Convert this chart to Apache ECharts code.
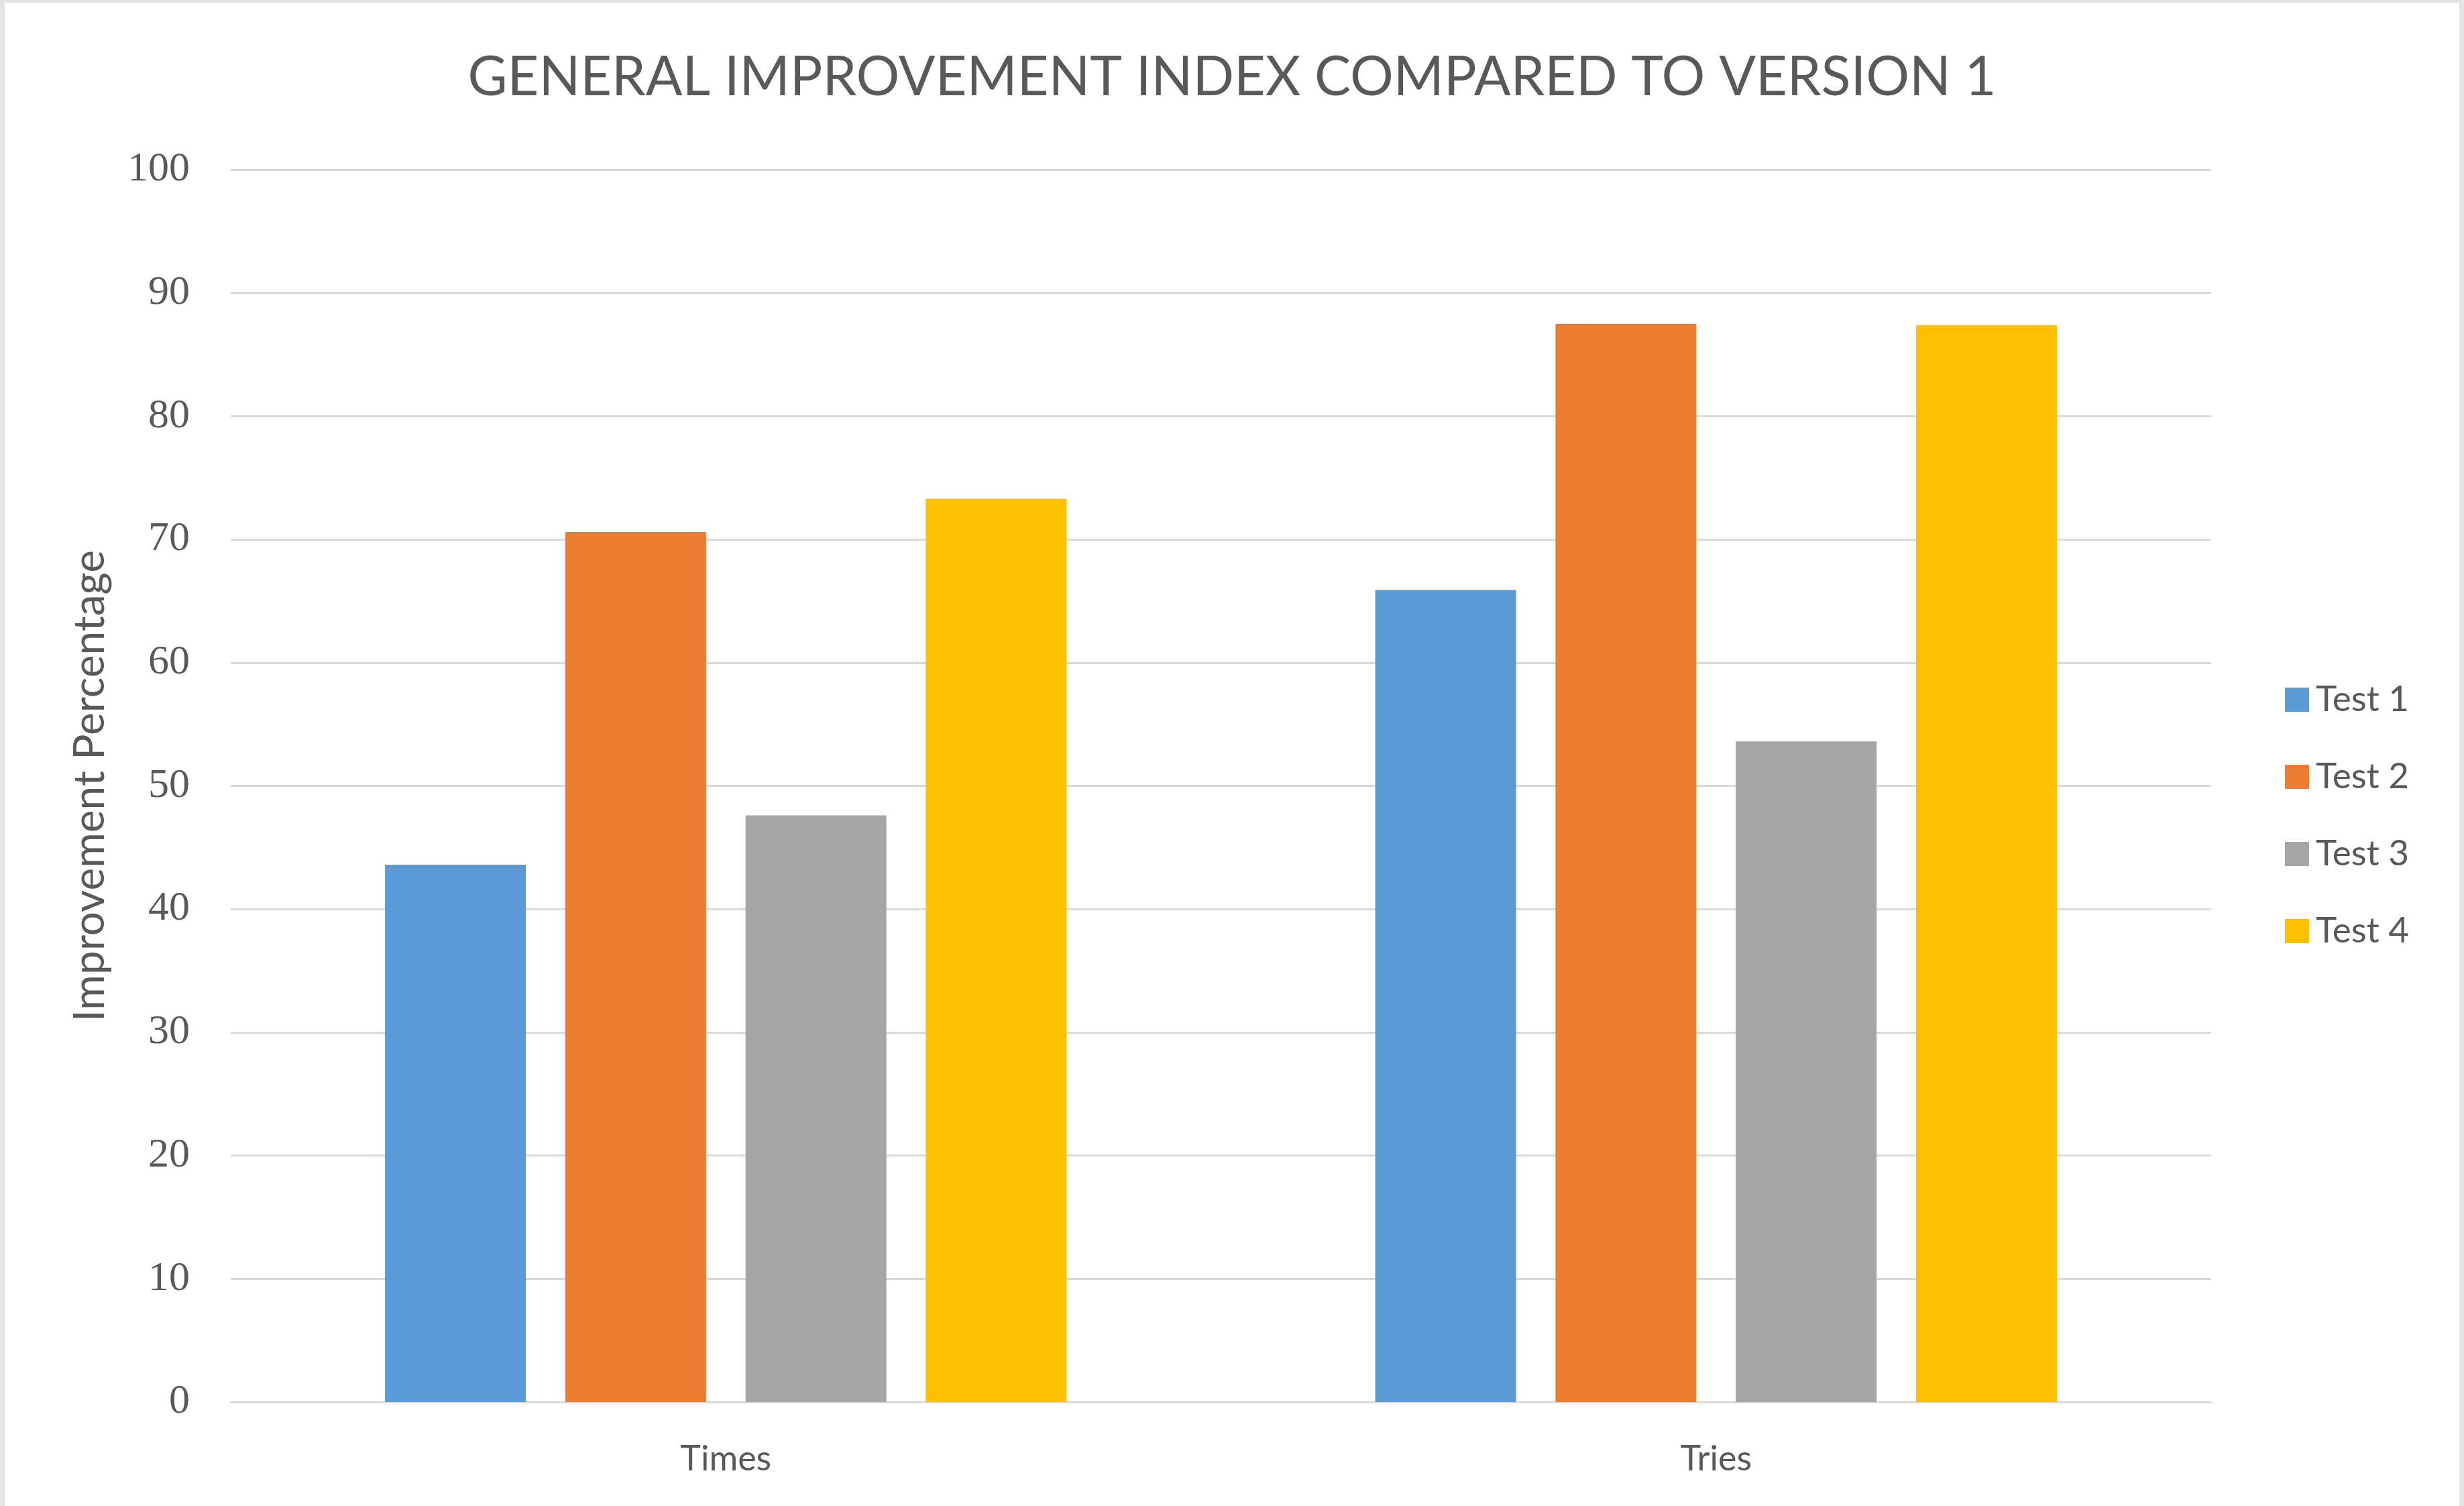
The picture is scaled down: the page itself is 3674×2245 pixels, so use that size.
<!DOCTYPE html>
<html>
<head>
<meta charset="utf-8">
<script src="https://cdn.jsdelivr.net/npm/echarts@6/dist/echarts.min.js"></script>
<style>
html,body{margin:0;padding:0;background:#fff;}
#c{width:3674px;height:2245px;position:absolute;left:0;top:0;}
#b{position:absolute;left:0;top:0;width:3674px;height:2245px;box-sizing:border-box;border-left:7px solid #e4e4e4;border-top:4px solid #e4e4e4;border-right:7px solid #e4e4e4;pointer-events:none;}
</style>
</head>
<body>
<div id="c"></div>
<div id="b"></div>
<script>
const titleText = 'GENERAL IMPROVEMENT INDEX COMPARED TO VERSION 1';
const categories = ['Times', 'Tries'];
const seriesNames = ['Test 1', 'Test 2', 'Test 3', 'Test 4'];
const test1 = [43.6, 65.9];
const test2 = [70.6, 87.5];
const test3 = [47.6, 53.6];
const test4 = [73.3, 87.4];
const colors = ['#5B9BD5', '#ED7D31', '#A5A5A5', '#FFC000'];
const yName = 'Improvement Percentage';

const values = [test1, test2, test3, test4];
const chart = echarts.init(document.getElementById('c'));
chart.setOption({
  backgroundColor: '#ffffff',
  animation: false,
  color: colors,
  title: {
    text: titleText,
    left: 'center',
    top: 70,
    textStyle: { fontFamily: 'Lato', fontWeight: 400, fontSize: 81, color: '#595959' }
  },
  legend: {
    orient: 'vertical',
    left: 3402,
    top: 1008,
    itemWidth: 36,
    itemHeight: 36,
    itemGap: 55,
    icon: 'rect',
    data: seriesNames,
    textStyle: { fontFamily: 'Lato', fontSize: 53, color: '#595959', lineHeight: 60, padding: [0, 0, 0, 5] }
  },
  grid: { left: 344, right: 377, top: 253, bottom: 155 },
  xAxis: {
    type: 'category',
    data: categories,
    axisLine: { lineStyle: { color: '#d9d9d9', width: 3 } },
    axisTick: { show: false },
    axisLabel: { fontFamily: 'Lato', fontSize: 52, color: '#595959', margin: 59 }
  },
  yAxis: {
    type: 'value',
    min: 0, max: 100, interval: 10,
    name: yName,
    nameLocation: 'middle',
    nameGap: 178,
    nameTextStyle: { fontFamily: 'Lato', fontSize: 64, color: '#595959' },
    axisLine: { show: false },
    axisTick: { show: false },
    axisLabel: { fontFamily: 'Liberation Serif', fontSize: 62, color: '#595959', margin: 61 },
    splitLine: { lineStyle: { color: '#d9d9d9', width: 3 } }
  },
  series: seriesNames.map((n, i) => ({
    name: n,
    type: 'bar',
    data: values[i],
    barWidth: 210,
    barGap: '28%',
    itemStyle: { color: colors[i] }
  }))
});
</script>
</body>
</html>
